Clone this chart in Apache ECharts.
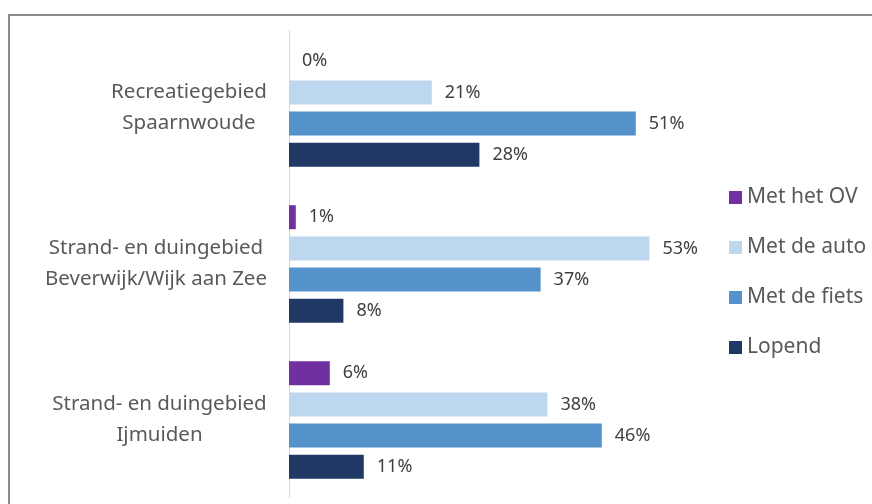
<!DOCTYPE html>
<html>
<head>
<meta charset="utf-8">
<script src="https://cdn.jsdelivr.net/npm/echarts@6/dist/echarts.min.js"></script>
<style>
  html, body { margin: 0; padding: 0; background: #fff; }
  #chart { width: 872px; height: 504px; }
</style>
</head>
<body>
<div id="chart"></div>
<script>
var categories = ['Recreatiegebied\nSpaarnwoude', 'Strand- en duingebied\nBeverwijk/Wijk aan Zee', 'Strand- en duingebied\nIjmuiden'];
var seriesNames = ['Met het OV', 'Met de auto', 'Met de fiets', 'Lopend'];
var ovValues = [0, 1, 6];
var autoValues = [21, 53, 38];
var fietsValues = [51, 37, 46];
var lopendValues = [28, 8, 11];
var seriesColors = ['#7030A0', '#BDD7EE', '#5592CB', '#203864'];

var labelFont = '20.5px "Noto Sans"';
var chart = echarts.init(document.getElementById('chart'));
var allValues = [ovValues, autoValues, fietsValues, lopendValues];

// measure widest line per category so lines can be centred in a right-aligned block
var ctx = document.createElement('canvas').getContext('2d');
ctx.font = labelFont;
var rich = {};
categories.forEach(function (c, i) {
    var w = 0;
    c.split('\n').forEach(function (line) {
        w = Math.max(w, ctx.measureText(line).width);
    });
    rich['c' + i] = { width: Math.ceil(w), align: 'center', fontSize: 20.5, lineHeight: 31, color: '#595959', fontFamily: 'Noto Sans' };
});

var series = allValues.map(function (vals, i) {
    return {
        name: seriesNames[i],
        type: 'bar',
        data: vals,
        barWidth: 24,
        barGap: '30%',
        itemStyle: { color: seriesColors[i] },
        label: {
            show: true,
            position: 'right',
            distance: 13,
            formatter: '{c}%',
            color: '#404040',
            fontSize: 18,
            fontFamily: 'Noto Sans'
        }
    };
});

var option = {
    animation: false,
    backgroundColor: '#fff',
    graphic: [{
        type: 'rect',
        shape: { x: 9, y: 15, width: 900, height: 600 },
        style: { fill: 'none', stroke: '#8c8c8c', lineWidth: 2 },
        silent: true
    }],
    grid: { left: 289, top: 30, width: 408, height: 468 },
    legend: {
        orient: 'vertical',
        left: 724,
        top: 182,
        itemWidth: 13,
        itemHeight: 13,
        itemGap: 29,
        icon: 'rect',
        textStyle: { color: '#595959', fontSize: 21, fontFamily: 'Noto Sans' },
        data: seriesNames
    },
    xAxis: {
        type: 'value',
        min: 0,
        max: 60,
        show: false
    },
    yAxis: {
        type: 'category',
        data: categories,
        inverse: true,
        axisLine: { show: true, lineStyle: { color: '#d9d9d9', width: 1 } },
        axisTick: { show: false },
        axisLabel: {
            margin: 22,
            align: 'right',
            rich: rich,
            formatter: function (v, idx) {
                return v.split('\n').map(function (line) {
                    return '{c' + idx + '|' + line + '}';
                }).join('\n');
            }
        }
    },
    series: series
};
chart.setOption(option);
</script>
</body>
</html>
